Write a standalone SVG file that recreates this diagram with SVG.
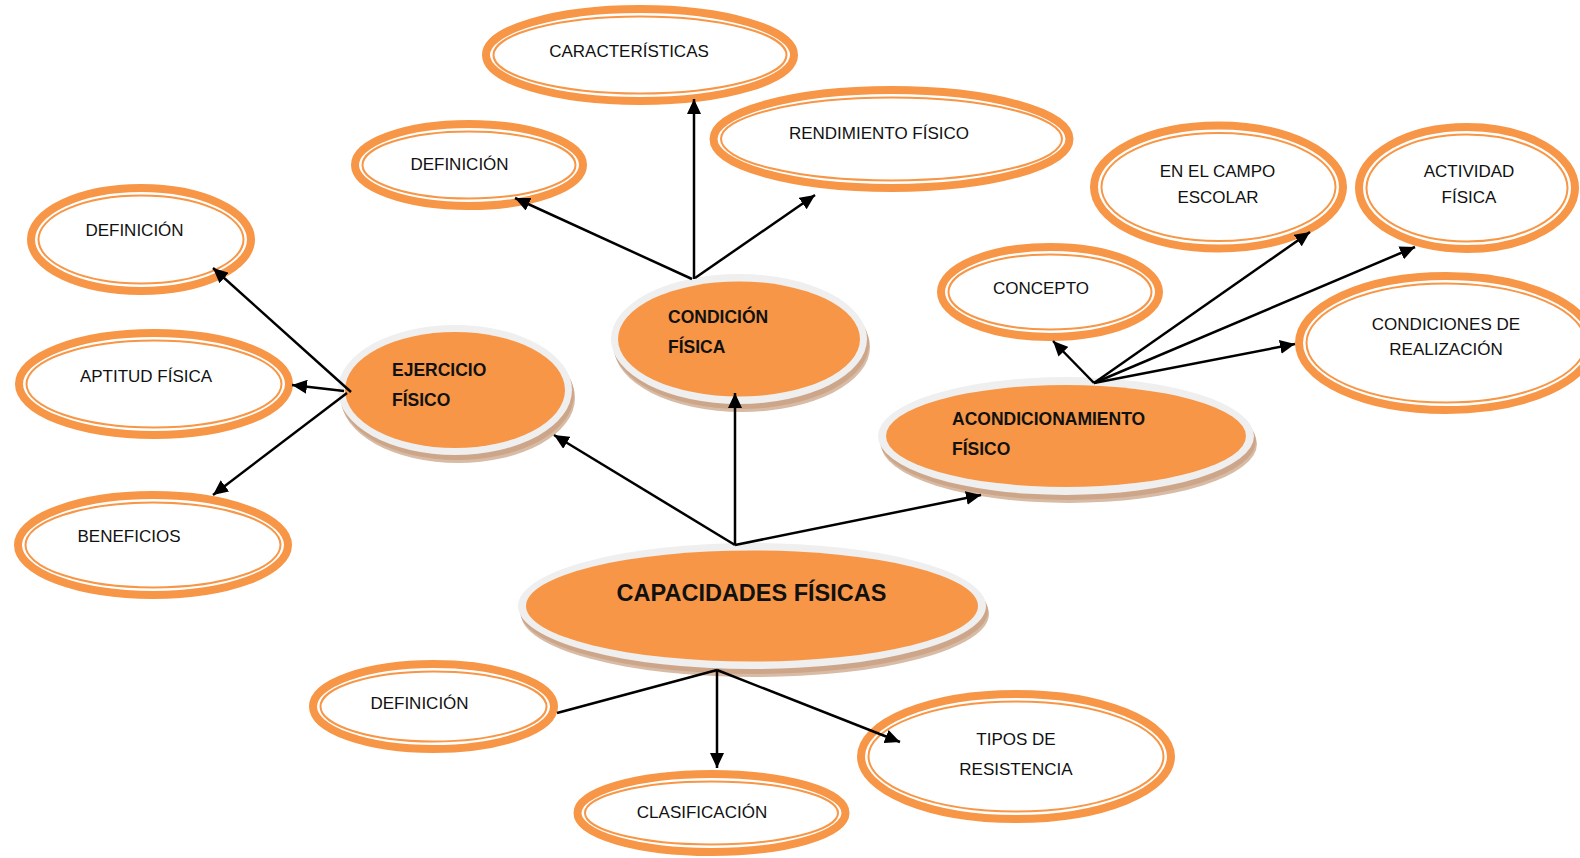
<svg xmlns="http://www.w3.org/2000/svg" width="1580" height="858" viewBox="0 0 1580 858">
<defs>
<style>
.o1{fill:#fff;stroke:#F79646;stroke-width:8}
.o2{fill:none;stroke:#F79646;stroke-width:2}
.sh{fill:#CDA68A}
.sh2{fill:#D8BBA5}
.rim{fill:#EFEFEF}
.core{fill:#F79646}
.t{font-family:"Liberation Sans",Arial,sans-serif;font-size:17px;fill:#111;text-anchor:middle}
.b{font-family:"Liberation Sans",Arial,sans-serif;font-size:17.5px;font-weight:bold;fill:#111}
.title{font-family:"Liberation Sans",Arial,sans-serif;font-size:23.5px;font-weight:bold;fill:#111;text-anchor:middle}
.c{stroke:#000;stroke-width:2.5;fill:none}
</style>
<marker id="ah" markerWidth="16" markerHeight="14" refX="15" refY="7" orient="auto" markerUnits="userSpaceOnUse"><path d="M0,0 L15,7 L0,14 z" fill="#000"/></marker>
</defs>

<g id="caracteristicas"><ellipse class="o1" cx="640" cy="55" rx="154" ry="46"/><ellipse class="o2" cx="640" cy="55" rx="146.5" ry="38.5"/><text class="t" x="629" y="57">CARACTERÍSTICAS</text></g>
<g id="definicion-condicion"><ellipse class="o1" cx="469" cy="165" rx="114" ry="41"/><ellipse class="o2" cx="469" cy="165" rx="106.5" ry="33.5"/><text class="t" x="459.5" y="170">DEFINICIÓN</text></g>
<g id="rendimiento"><ellipse class="o1" cx="891.5" cy="139" rx="178" ry="49"/><ellipse class="o2" cx="891.5" cy="139" rx="170.5" ry="41.5"/><text class="t" x="879" y="139">RENDIMIENTO FÍSICO</text></g>
<g id="definicion-ejercicio"><ellipse class="o1" cx="141" cy="239.5" rx="110" ry="51.5"/><ellipse class="o2" cx="141" cy="239.5" rx="102.5" ry="44"/><text class="t" x="134.5" y="236">DEFINICIÓN</text></g>
<g id="aptitud"><ellipse class="o1" cx="154" cy="384" rx="135" ry="51"/><ellipse class="o2" cx="154" cy="384" rx="127.5" ry="43.5"/><text class="t" x="146" y="382">APTITUD FÍSICA</text></g>
<g id="beneficios"><ellipse class="o1" cx="153" cy="545" rx="135" ry="50"/><ellipse class="o2" cx="153" cy="545" rx="127.5" ry="42.5"/><text class="t" x="129" y="542">BENEFICIOS</text></g>
<g id="campo-escolar"><ellipse class="o1" cx="1218.5" cy="187" rx="124.5" ry="61.5"/><ellipse class="o2" cx="1218.5" cy="187" rx="117" ry="54"/><text class="t" x="1217.5" y="177">EN EL CAMPO</text><text class="t" x="1218" y="202.5">ESCOLAR</text></g>
<g id="concepto"><ellipse class="o1" cx="1050" cy="292" rx="109" ry="45"/><ellipse class="o2" cx="1050" cy="292" rx="101.5" ry="37.5"/><text class="t" x="1041" y="294">CONCEPTO</text></g>
<g id="actividad"><ellipse class="o1" cx="1467" cy="188" rx="108" ry="61"/><ellipse class="o2" cx="1467" cy="188" rx="100.5" ry="53.5"/><text class="t" x="1469" y="177">ACTIVIDAD</text><text class="t" x="1469" y="203">FÍSICA</text></g>
<g id="condiciones"><ellipse class="o1" cx="1446" cy="343" rx="147" ry="67"/><ellipse class="o2" cx="1446" cy="343" rx="139.5" ry="59.5"/><text class="t" x="1446" y="329.5">CONDICIONES DE</text><text class="t" x="1446" y="355">REALIZACIÓN</text></g>
<g id="definicion-capacidades"><ellipse class="o1" cx="433.5" cy="706.5" rx="120.5" ry="42.5"/><ellipse class="o2" cx="433.5" cy="706.5" rx="113" ry="35"/><text class="t" x="419.5" y="709">DEFINICIÓN</text></g>
<g id="clasificacion"><ellipse class="o1" cx="711.5" cy="813" rx="134" ry="39"/><ellipse class="o2" cx="711.5" cy="813" rx="126.5" ry="31.5"/><text class="t" x="702" y="818">CLASIFICACIÓN</text></g>
<g id="tipos"><ellipse class="o1" cx="1016" cy="756.5" rx="155" ry="62.5"/><ellipse class="o2" cx="1016" cy="756.5" rx="147.5" ry="55"/><text class="t" x="1016" y="745">TIPOS DE</text><text class="t" x="1016" y="775">RESISTENCIA</text></g>

<g id="ejercicio"><ellipse class="sh2" cx="458" cy="398" rx="117" ry="65"/><ellipse class="sh" cx="457" cy="395" rx="117" ry="65"/><ellipse class="rim" cx="455" cy="390" rx="117" ry="65"/><ellipse class="core" cx="455" cy="390" rx="110" ry="58"/><text class="b" x="392" y="376">EJERCICIO</text><text class="b" x="392" y="406">FÍSICO</text></g>
<g id="condicion"><ellipse class="sh2" cx="742" cy="347" rx="128" ry="65"/><ellipse class="sh" cx="741" cy="344" rx="128" ry="65"/><ellipse class="rim" cx="739" cy="339" rx="128" ry="65"/><ellipse class="core" cx="739" cy="339" rx="121" ry="57.5"/><text class="b" x="668" y="323">CONDICIÓN</text><text class="b" x="668" y="353">FÍSICA</text></g>
<g id="acondicionamiento"><ellipse class="sh2" cx="1069" cy="444" rx="188" ry="59"/><ellipse class="sh" cx="1068" cy="441" rx="188" ry="59"/><ellipse class="rim" cx="1066" cy="436" rx="188" ry="59"/><ellipse class="core" cx="1066" cy="436" rx="180" ry="51"/><text class="b" x="952" y="425">ACONDICIONAMIENTO</text><text class="b" x="952" y="455">FÍSICO</text></g>
<g id="capacidades"><ellipse class="sh2" cx="755" cy="614" rx="234" ry="63"/><ellipse class="sh" cx="754" cy="611" rx="234" ry="63"/><ellipse class="rim" cx="752" cy="606" rx="234" ry="63"/><ellipse class="core" cx="752" cy="606" rx="226" ry="55.5"/><text class="title" x="751.5" y="601">CAPACIDADES FÍSICAS</text></g>

<g id="connectors">
<line class="c" x1="735" y1="545" x2="735" y2="393" marker-end="url(#ah)"/>
<line class="c" x1="735" y1="545" x2="554" y2="435" marker-end="url(#ah)"/>
<line class="c" x1="735" y1="545" x2="981" y2="495" marker-end="url(#ah)"/>
<line class="c" x1="694" y1="279" x2="694" y2="99" marker-end="url(#ah)"/>
<line class="c" x1="692" y1="279" x2="515" y2="198" marker-end="url(#ah)"/>
<line class="c" x1="695" y1="278" x2="815" y2="195" marker-end="url(#ah)"/>
<line class="c" x1="351" y1="392" x2="213" y2="268" marker-end="url(#ah)"/>
<line class="c" x1="344" y1="391" x2="292" y2="385" marker-end="url(#ah)"/>
<line class="c" x1="347" y1="393" x2="213" y2="495" marker-end="url(#ah)"/>
<line class="c" x1="1094" y1="383" x2="1053" y2="341" marker-end="url(#ah)"/>
<line class="c" x1="1094" y1="383" x2="1310" y2="232" marker-end="url(#ah)"/>
<line class="c" x1="1094" y1="383" x2="1415" y2="247" marker-end="url(#ah)"/>
<line class="c" x1="1094" y1="383" x2="1295" y2="344" marker-end="url(#ah)"/>
<line class="c" x1="717" y1="670" x2="557" y2="713"/>
<line class="c" x1="717" y1="670" x2="717" y2="768" marker-end="url(#ah)"/>
<line class="c" x1="717" y1="670" x2="900" y2="742" marker-end="url(#ah)"/>
</g>
</svg>
